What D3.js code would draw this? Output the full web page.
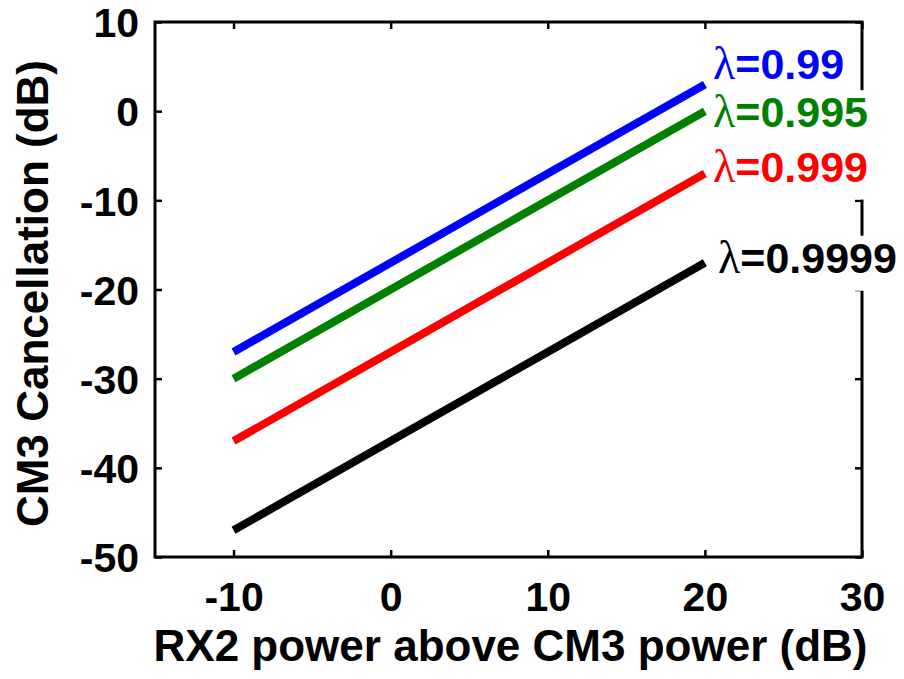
<!DOCTYPE html>
<html>
<head>
<meta charset="utf-8">
<script src="https://cdn.jsdelivr.net/npm/d3@7"></script>
<style>
  html, body { margin: 0; padding: 0; background: #fff; }
  svg { display: block; }
  text { font-family: "Liberation Sans", Arial, Helvetica, sans-serif; font-weight: bold; }
</style>
</head>
<body>
<svg id="chart" width="904" height="679"></svg>
<script>
// ---- data ----
const xValues = [-10, 0, 10, 20];
const seriesNames = ["0.99", "0.995", "0.999", "0.9999"];
const seriesColors = ["#0000ff", "#008000", "#ff0000", "#000000"];
const blueValues  = [-27, -17, -7, 3];
const greenValues = [-30, -20, -10, 0];
const redValues   = [-37, -27, -17, -7];
const blackValues = [-47, -37, -27, -17];
const xTicks = [-10, 0, 10, 20, 30];
const yTicks = [10, 0, -10, -20, -30, -40, -50];
const xLabel = "RX2 power above CM3 power (dB)";
const yLabel = "CM3 Cancellation (dB)";

const seriesValues = [blueValues, greenValues, redValues, blackValues];

const svg = d3.select("#chart");
const pLeft = 155, pRight = 862, pTop = 22, pBottom = 557;

const x = d3.scaleLinear().domain([-15, 30]).range([pLeft, pRight]);
const y = d3.scaleLinear().domain([-50, 10]).range([pBottom, pTop]);

const tickLen = 7;
const axisColor = "#000";
const fmt = d => String(d);

// lines
const line = d3.line().x(d => x(d[0])).y(d => y(d[1]));
seriesValues.forEach((vals, i) => {
  svg.append("path")
    .datum(xValues.map((xv, j) => [xv, vals[j]]))
    .attr("d", line)
    .attr("fill", "none")
    .attr("stroke", seriesColors[i])
    .attr("stroke-width", 8)
    .attr("stroke-linecap", "butt");
});

// axes (inner ticks on all sides)
const gx = svg.append("g").attr("transform", `translate(0,${pBottom})`)
  .call(d3.axisBottom(x).tickValues(xTicks).tickSizeInner(-tickLen).tickSizeOuter(0).tickPadding(0).tickFormat(fmt));
const gxt = svg.append("g").attr("transform", `translate(0,${pTop})`)
  .call(d3.axisTop(x).tickValues(xTicks).tickSizeInner(-tickLen).tickSizeOuter(0).tickFormat(""));
const gy = svg.append("g").attr("transform", `translate(${pLeft},0)`)
  .call(d3.axisLeft(y).tickValues(yTicks).tickSizeInner(-tickLen).tickSizeOuter(0).tickPadding(0).tickFormat(fmt));
const gyr = svg.append("g").attr("transform", `translate(${pRight},0)`)
  .call(d3.axisRight(y).tickValues(yTicks).tickSizeInner(-tickLen).tickSizeOuter(0).tickFormat(""));

[gx, gxt, gy, gyr].forEach(g => {
  g.select(".domain").remove();
  g.selectAll("line").attr("stroke", axisColor).attr("stroke-width", 2.5);
});

// frame
svg.append("rect")
  .attr("x", pLeft).attr("y", pTop)
  .attr("width", pRight - pLeft).attr("height", pBottom - pTop)
  .attr("fill", "none").attr("stroke", axisColor).attr("stroke-width", 3);

gx.selectAll("text")
  .attr("y", 54).attr("dy", 0)
  .attr("font-size", 41).attr("font-weight", "bold").attr("fill", "#000")
  .attr("font-family", "Liberation Sans, Arial, sans-serif");
gy.selectAll("text")
  .attr("x", -16).attr("dy", "0.358em")
  .attr("font-size", 41).attr("font-weight", "bold").attr("fill", "#000")
  .attr("font-family", "Liberation Sans, Arial, sans-serif");

// axis titles
svg.append("text")
  .attr("x", (pLeft + pRight) / 2 + 2).attr("y", 661)
  .attr("text-anchor", "middle").attr("font-size", 44)
  .text(xLabel);
svg.append("text")
  .attr("transform", `translate(48,${(60 + 527) / 2}) rotate(-90)`)
  .attr("text-anchor", "middle").attr("font-size", 44)
  .text(yLabel);

// series labels with white background
const labelX = [713, 713, 713, 718];
const baseOffsets = [-5, 16, 8, 10];
seriesNames.forEach((name, i) => {
  const last = seriesValues[i][seriesValues[i].length - 1];
  const g = svg.append("g");
  const t = g.append("text")
    .attr("x", labelX[i])
    .attr("y", y(last) + baseOffsets[i])
    .attr("fill", seriesColors[i])
    .attr("font-size", 43);
  t.append("tspan").attr("font-family", "Liberation Serif, DejaVu Serif, serif").attr("font-weight", "normal").attr("font-size", 46).text("λ");
  t.append("tspan").text("=" + name);
  const bb = t.node().getBBox();
  g.insert("rect", "text")
    .attr("x", bb.x - 4).attr("y", bb.y + 4)
    .attr("width", bb.width + 8).attr("height", bb.height + 4)
    .attr("fill", "#fff");
});
</script>
</body>
</html>
